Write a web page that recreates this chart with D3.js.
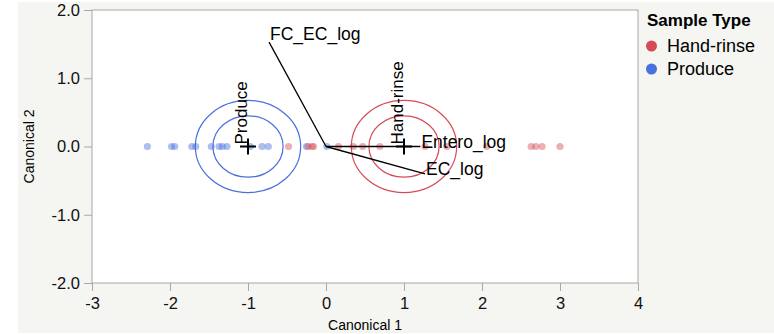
<!DOCTYPE html>
<html>
<head>
<meta charset="utf-8">
<script src="https://cdn.jsdelivr.net/npm/d3@7"></script>
<style>
  html, body { margin: 0; padding: 0; background: #fff; }
  svg { display: block; font-family: "Liberation Sans", Arial, sans-serif; }
</style>
</head>
<body>
<div class="chart"></div>
<script>
// Sample Type groups
let groups = ['Hand-rinse', 'Produce'];
let groupColors = ['#d64b58', '#4a70dd'];

// Canonical 1 scores per sample (Canonical 2 is 0 for every sample)
let handRinseScores = [-0.48, -0.23, -0.18, -0.16, 0.16, 0.35, 0.47, 0.69, 1.27, 1.55, 2.06, 2.63, 2.69, 2.77, 3.0];
let produceScores = [-2.29, -1.98, -1.94, -1.72, -1.67, -1.47, -1.37, -1.33, -1.27, -0.97, -0.82, -0.74, -0.25, 0.01];

// group means
let groupMeans = [[1, 0], [-1, 0]];
let circleRadii = [0.45, 0.675];

// biplot rays
let rayNames = ['FC_EC_log', 'Entero_log', 'EC_log'];
let rayX = [-0.73, 1.21, 1.27];
let rayY = [1.53, 0.0, -0.40];

let xTicks = [-3, -2, -1, 0, 1, 2, 3, 4];
let yTicks = [-2, -1, 0, 1, 2];

let W = 774, H = 334;
let margin = { top: 10, right: 136, bottom: 51, left: 92 };
let width = W - margin.left - margin.right;
let height = H - margin.top - margin.bottom;

let root = d3.select('.chart')
  .append('svg')
    .attr('width', W)
    .attr('height', H);

root.append('rect')
  .attr('x', 18).attr('y', 2)
  .attr('width', W - 18).attr('height', H - 3)
  .attr('fill', '#f5f5f1');

let svg = root.append('g')
  .attr('transform', 'translate(' + margin.left + ', ' + margin.top + ')');

let xScale = d3.scaleLinear().domain([-3, 4]).range([0, width]);
let yScale = d3.scaleLinear().domain([-2, 2]).range([height, 0]);

svg.append('rect')
  .attr('width', width).attr('height', height)
  .attr('fill', '#fff');

svg.append('clipPath').attr('id', 'plotclip')
  .append('rect').attr('width', width).attr('height', height);

// axes
let xAxis = d3.axisBottom(xScale).tickValues(xTicks).tickSize(8).tickPadding(6);
let yAxis = d3.axisLeft(yScale).tickValues(yTicks).tickSize(8).tickPadding(4);

let gx = svg.append('g').attr('transform', `translate(0, ${height})`).call(xAxis);
let gy = svg.append('g').call(yAxis);
[gx, gy].forEach(g => {
  g.select('.domain').remove();
  g.selectAll('line').attr('stroke', '#a8a8a8');
  g.selectAll('text').attr('fill', '#111').style('font-size', '16.5px');
});
gy.selectAll('text').text(d => d.toFixed(1));
gx.selectAll('text').text(d => String(d));

svg.append('rect')
  .attr('width', width).attr('height', height)
  .attr('fill', 'none')
  .attr('stroke', '#a8a8a8');

root.append('text')
  .attr('x', margin.left + width / 2).attr('y', 330)
  .attr('text-anchor', 'middle')
  .style('font-size', '14px')
  .text('Canonical 1');

root.append('text')
  .attr('transform', `translate(34, ${margin.top + yScale(0)}) rotate(-90)`)
  .attr('text-anchor', 'middle')
  .style('font-size', '14px')
  .text('Canonical 2');

let plot = svg.append('g').attr('clip-path', 'url(#plotclip)');

// points
let points = [];
produceScores.forEach(v => points.push({ x: v, g: 1 }));
handRinseScores.forEach(v => points.push({ x: v, g: 0 }));

plot.selectAll('circle.pt')
  .data(points)
  .enter()
  .append('circle')
    .attr('class', 'pt')
    .attr('cx', d => xScale(d.x))
    .attr('cy', yScale(0))
    .attr('r', 3.6)
    .attr('fill', d => groupColors[d.g])
    .attr('fill-opacity', 0.45);

// confidence circles
groupMeans.forEach((m, i) => {
  circleRadii.forEach(r => {
    plot.append('ellipse')
      .attr('cx', xScale(m[0]))
      .attr('cy', yScale(m[1]))
      .attr('rx', xScale(r) - xScale(0))
      .attr('ry', yScale(0) - yScale(r))
      .attr('fill', 'none')
      .attr('stroke', groupColors[i])
      .attr('stroke-width', 1.2);
  });
});

// rays
rayNames.forEach((name, i) => {
  plot.append('line')
    .attr('x1', xScale(0)).attr('y1', yScale(0))
    .attr('x2', xScale(rayX[i])).attr('y2', yScale(rayY[i]))
    .attr('stroke', '#000')
    .attr('stroke-width', 1.3);
  plot.append('text')
    .attr('x', xScale(rayX[i]) + 1)
    .attr('y', yScale(rayY[i]) + (i == 0 ? -2 : 1))
    .style('font-size', '17.5px')
    .attr('fill', '#000')
    .text(name);
});

// group mean markers and labels
groupMeans.forEach((m, i) => {
  let cx = xScale(m[0]), cy = yScale(m[1]);
  plot.append('path')
    .attr('d', `M${cx - 8},${cy}H${cx + 8}M${cx},${cy - 8}V${cy + 8}`)
    .attr('stroke', '#000')
    .attr('stroke-width', 2);
  plot.append('text')
    .attr('transform', `translate(${cx - 1}, ${cy - 2}) rotate(-90)`)
    .style('font-size', '17px')
    .attr('fill', '#000')
    .text(groups[i]);
});

// legend
let legend = root.append('g').attr('transform', 'translate(645, 0)');
legend.append('text')
  .attr('x', 2).attr('y', 26)
  .style('font-size', '17px')
  .style('font-weight', 'bold')
  .text('Sample Type');
groups.forEach((g, i) => {
  legend.append('circle')
    .attr('cx', 6.5).attr('cy', 46 + i * 23)
    .attr('r', 5.5)
    .attr('fill', groupColors[i]);
  legend.append('text')
    .attr('x', 22).attr('y', 52 + i * 23)
    .style('font-size', '18px')
    .text(g);
});
</script>
</body>
</html>
